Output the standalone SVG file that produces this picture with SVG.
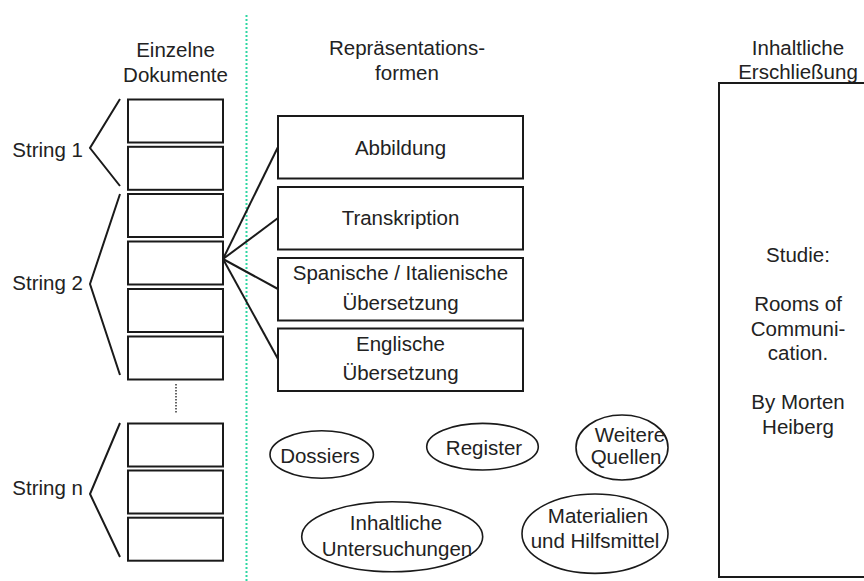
<svg xmlns="http://www.w3.org/2000/svg" width="864" height="581" viewBox="0 0 864 581">
<style>
text{font-family:"Liberation Sans",Arial,sans-serif;font-size:20.5px;fill:#222;text-anchor:middle}
.doc{fill:#fff;stroke:#1a1a1a;stroke-width:2}
.rep{fill:#fff;stroke:#1a1a1a;stroke-width:2}
.ell{fill:#fff;stroke:#1a1a1a;stroke-width:1.6}
.ln{fill:none;stroke:#1a1a1a;stroke-width:2}
</style>
<rect width="864" height="581" fill="#fff"/>
<line x1="246.5" y1="15" x2="246.5" y2="581" stroke="#2fd6a2" stroke-width="2" stroke-dasharray="2 2"/>
<g id="headers">
<text x="175.5" y="56.5">Einzelne</text>
<text x="175.5" y="81.5">Dokumente</text>
<text x="407" y="55">Repräsentations-</text>
<text x="407" y="79.5">formen</text>
<text x="798" y="55">Inhaltliche</text>
<text x="798" y="79">Erschließung</text>
</g>
<g id="connectors">
<polyline class="ln" points="120,99 90,148 120,186"/>
<polyline class="ln" points="120,194 90,284 120,375"/>
<polyline class="ln" points="120,423 90,494 120,557"/>
<line class="ln" x1="223" y1="259" x2="278" y2="147"/>
<line class="ln" x1="223" y1="259" x2="278" y2="218"/>
<line class="ln" x1="223" y1="259" x2="278" y2="289"/>
<line class="ln" x1="223" y1="259" x2="278" y2="359"/>
<line x1="176" y1="384" x2="176" y2="413" stroke="#333" stroke-width="1.5" stroke-dasharray="1.5 1.5"/>
</g>
<g id="string-labels">
<text x="83" y="157" style="text-anchor:end">String 1</text>
<text x="83" y="290" style="text-anchor:end">String 2</text>
<text x="83" y="495" style="text-anchor:end">String n</text>
</g>
<g id="documents">
<rect id="doc1" class="doc" x="128" y="99.5" width="95" height="43"/>
<rect id="doc2" class="doc" x="128" y="146.8" width="95" height="43"/>
<rect id="doc3" class="doc" x="128" y="194" width="95" height="43"/>
<rect id="doc4" class="doc" x="128" y="241.5" width="95" height="43"/>
<rect id="doc5" class="doc" x="128" y="289" width="95" height="43"/>
<rect id="doc6" class="doc" x="128" y="336.5" width="95" height="43"/>
<rect id="doc7" class="doc" x="128" y="423.5" width="95" height="43"/>
<rect id="doc8" class="doc" x="128" y="470.5" width="95" height="43"/>
<rect id="doc9" class="doc" x="128" y="517.7" width="95" height="43"/>
</g>
<g id="abbildung">
<rect class="rep" x="278" y="116" width="245" height="62.5"/>
<text x="400.5" y="155">Abbildung</text>
</g>
<g id="transkription">
<rect class="rep" x="278" y="187" width="245" height="62.5"/>
<text x="400.5" y="225">Transkription</text>
</g>
<g id="spanisch">
<rect class="rep" x="278" y="258" width="245" height="62.5"/>
<text x="400.5" y="280">Spanische / Italienische</text>
<text x="400.5" y="310">Übersetzung</text>
</g>
<g id="englisch">
<rect class="rep" x="278" y="328.5" width="245" height="62.5"/>
<text x="400.5" y="350.5">Englische</text>
<text x="400.5" y="380">Übersetzung</text>
</g>
<g id="dossiers">
<ellipse class="ell" cx="321.7" cy="454.5" rx="51.7" ry="23.8"/>
<text x="320" y="463">Dossiers</text>
</g>
<g id="register">
<ellipse class="ell" cx="482.5" cy="446.7" rx="55.8" ry="23.3"/>
<text x="484" y="455">Register</text>
</g>
<g id="weitere">
<ellipse class="ell" cx="622" cy="447.5" rx="46" ry="32.5"/>
<text x="630" y="441.5">Weitere</text>
<text x="626" y="464">Quellen</text>
</g>
<g id="untersuchungen">
<ellipse class="ell" cx="392.2" cy="536.7" rx="90.5" ry="35"/>
<text x="396" y="530">Inhaltliche</text>
<text x="397" y="556">Untersuchungen</text>
</g>
<g id="materialien">
<ellipse class="ell" cx="595" cy="533.7" rx="73" ry="39.7"/>
<text x="598" y="523">Materialien</text>
<text x="595" y="548">und Hilfsmittel</text>
</g>
<g id="studie">
<rect class="rep" x="719" y="83" width="160" height="494"/>
<text x="798" y="262">Studie:</text>
<text x="798" y="311">Rooms of</text>
<text x="798" y="335.5">Communi-</text>
<text x="798" y="360">cation.</text>
<text x="798" y="409">By Morten</text>
<text x="798" y="433.5">Heiberg</text>
</g>
</svg>
